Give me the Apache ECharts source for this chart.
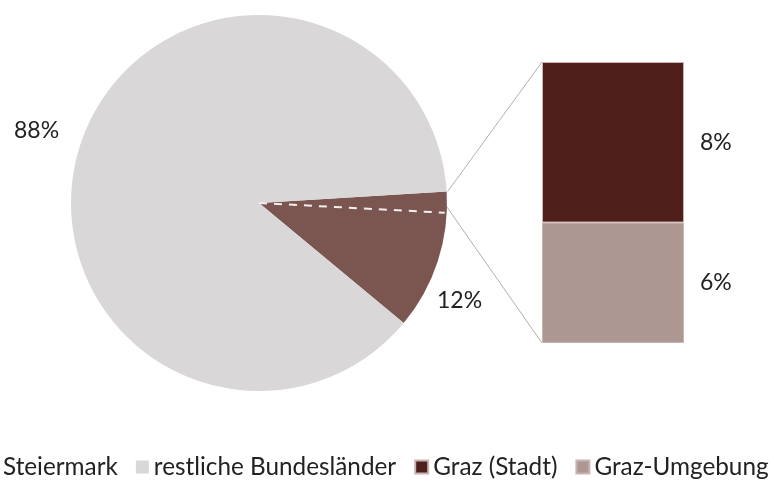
<!DOCTYPE html>
<html>
<head>
<meta charset="utf-8">
<script src="https://cdn.jsdelivr.net/npm/echarts@6/dist/echarts.min.js"></script>
<style>
  html, body { margin: 0; padding: 0; background: #fff; }
  #chart { width: 782px; height: 481px; }
</style>
</head>
<body>
<div id="chart"></div>
<script>
  // pie: share of visitors
  const pieNames = ['Steiermark', 'restliche Bundesländer'];
  const pieValues = [12, 88];
  // bar: breakdown of the Steiermark slice
  const barNames = ['Graz-Umgebung', 'Graz (Stadt)'];
  const barValues = [6, 8];

  const legendNames = ['Steiermark', 'restliche Bundesländer', 'Graz (Stadt)', 'Graz-Umgebung'];

  const pieColors = ['#7b5651', '#d9d7d7'];
  const barColors = ['#ad9793', '#4f1f1b'];
  const font = 'Lato';

  const cx = 259, cy = 203, r = 188;
  const startAngle = 3.5;

  let myChart = echarts.init(document.getElementById('chart'));

  let option = {
    animation: false,
    textStyle: { fontFamily: font },
    legend: {
      left: -15,
      top: 455,
      width: 900,
      padding: 0,
      itemWidth: 13,
      itemHeight: 13,
      itemGap: 18,
      icon: 'rect',
      textStyle: { fontSize: 24.3, color: '#222', fontFamily: font },
      data: legendNames
    },
    grid: { left: 542, top: 62, width: 142, height: 281 },
    xAxis: { type: 'category', show: false, data: [''] },
    yAxis: { type: 'value', show: false, min: 0, max: barValues.reduce((a, b) => a + b, 0) },
    series: [
      {
        type: 'pie',
        center: [cx, cy],
        radius: r,
        startAngle: startAngle,
        clockwise: true,
        label: {
          show: true,
          formatter: '{c}%',
          fontSize: 23,
          color: '#222',
          fontFamily: font,
          overflow: 'none',
          width: 80
        },
        labelLine: { show: false },
        labelLayout: function (params) {
          if (params.dataIndex === 1) return { x: 14, y: 131, align: 'left', verticalAlign: 'middle' };
          return { x: 437, y: 301, align: 'left', verticalAlign: 'middle' };
        },
        itemStyle: { borderWidth: 0 },
        emphasis: { disabled: true },
        data: pieNames.map((n, i) => ({ name: n, value: pieValues[i], itemStyle: { color: pieColors[i] } }))
      }
    ].concat(barNames.map((n, i) => ({
      type: 'bar',
      name: n,
      stack: 'graz',
      barWidth: '100%',
      itemStyle: { color: barColors[i], borderColor: '#c9b4b1', borderWidth: 1 },
      label: {
        show: true,
        position: 'right',
        distance: 16,
        formatter: '{c}%',
        fontSize: 23,
        color: '#222',
        fontFamily: font
      },
      emphasis: { disabled: true },
      data: [barValues[i]]
    })))
  };

  myChart.setOption(option);

  // connector lines and divider, computed from the drawn marks
  function polar(a, rad) {
    const t = a * Math.PI / 180;
    return [cx + rad * Math.cos(t), cy - rad * Math.sin(t)];
  }
  const model = myChart.getModel();
  const topBar = model.getSeriesByIndex(2).getData().getItemLayout(0);
  const botBar = model.getSeriesByIndex(1).getData().getItemLayout(0);
  const barLeft = Math.min(topBar.x, topBar.x + topBar.width);
  const barTop = Math.min(topBar.y, topBar.y + topBar.height);
  const barBottom = Math.max(botBar.y, botBar.y + botBar.height);

  const dividerAngle = -3;
  const pTop = polar(startAngle, r);
  const pDiv = polar(dividerAngle, r - 2);

  myChart.setOption({
    graphic: [
      {
        type: 'line',
        shape: { x1: cx, y1: cy, x2: pDiv[0], y2: pDiv[1] },
        style: { stroke: '#f4eeee', lineWidth: 2, lineDash: [8, 7] },
        z: 10
      },
      {
        type: 'line',
        shape: { x1: pTop[0] + 1, y1: pTop[1], x2: barLeft, y2: barTop },
        style: { stroke: '#b7aeac', lineWidth: 1 }
      },
      {
        type: 'line',
        shape: { x1: pDiv[0] + 2, y1: pDiv[1] - 6, x2: barLeft, y2: barBottom },
        style: { stroke: '#b7aeac', lineWidth: 1 }
      }
    ]
  });
</script>
</body>
</html>
